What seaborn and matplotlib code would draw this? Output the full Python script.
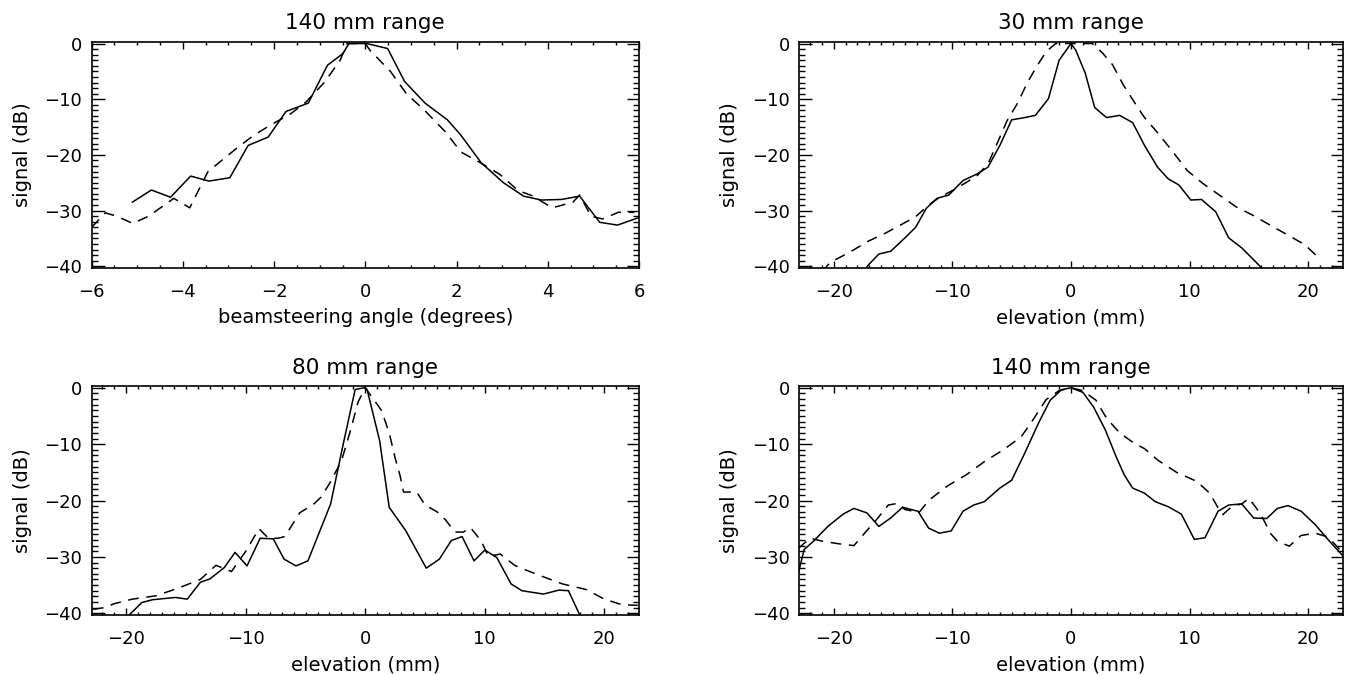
import matplotlib
matplotlib.use("Agg")
import matplotlib.pyplot as plt
import seaborn as sns
from matplotlib.ticker import MultipleLocator

# top left: 140 mm range, beamsteering angle
ang_solid_x = [-5.11, -4.69, -4.27, -3.83, -3.43, -2.97, -2.57, -2.13, -1.74, -1.25, -0.83, -0.49, -0.36,
               0.03, 0.49, 0.86, 1.31, 1.80, 2.09, 2.54, 3.03, 3.47, 3.86, 4.30, 4.70, 5.14, 5.53, 5.98]
ang_solid_y = [-28.5, -26.3, -27.6, -23.8, -24.7, -24.1, -18.3, -16.8, -12.2, -10.7, -3.9, -1.8, 0.0,
               0.0, -0.9, -6.8, -10.7, -13.7, -16.4, -21.4, -25.0, -27.4, -28.1, -28.0, -27.4, -32.1, -32.6, -31.3]
ang_dash_x = [-6.0, -5.7, -5.45, -5.1, -4.75, -4.2, -3.85, -3.45, -2.85, -2.45, -2.05, -1.65, -1.3, -0.9,
              -0.55, -0.4, 0.0, 0.1, 0.55, 0.9, 1.3, 1.75, 2.1, 2.5, 2.95, 3.35, 3.65, 4.1, 4.55, 4.7,
              4.95, 5.2, 5.55, 5.9]
ang_dash_y = [-33.0, -30.4, -31.0, -32.3, -31.0, -27.8, -29.5, -23.0, -19.0, -16.5, -14.5, -12.7, -10.5, -7.0,
              -3.0, 0.0, 0.0, -1.2, -5.0, -9.0, -12.0, -15.8, -19.5, -21.3, -23.5, -26.4, -27.3, -29.5, -28.5, -27.2,
              -31.0, -31.5, -30.3, -30.3]

# top right: 30 mm range, elevation
e30_solid_x = [-17.6, -17.1, -16.2, -15.2, -14.0, -13.1, -12.2, -11.3, -10.3, -9.1, -7.9, -7.0, -6.0, -5.0,
               -3.9, -3.0, -1.9, -1.0, -0.4, 0.0, 0.4, 1.2, 2.0, 3.0, 4.1, 5.2, 6.2, 7.3, 8.2, 9.1, 10.1,
               11.0, 12.2, 13.3, 14.4, 15.9, 16.5]
e30_solid_y = [-41.5, -39.8, -37.8, -37.3, -34.9, -33.0, -29.6, -27.8, -27.2, -24.6, -23.4, -22.2, -18.3, -13.7,
               -13.3, -12.9, -9.9, -3.0, -1.2, 0.0, -1.2, -5.3, -11.5, -13.3, -12.9, -14.2, -18.3, -22.2, -24.3,
               -25.4, -28.1, -28.0, -30.2, -34.9, -36.7, -39.9, -41.5]
e30_dash_x = [-21.0, -20.3, -18.6, -17.1, -15.6, -14.3, -13.1, -12.0, -11.0, -9.9, -8.8, -7.9, -7.0, -6.3,
              -5.4, -4.5, -3.7, -2.8, -2.1, -1.3, 1.8, 2.7, 3.5, 4.4, 5.3, 6.2, 7.3, 8.5, 9.8, 11.1, 12.7,
              13.9, 15.3, 16.7, 18.2, 19.7, 20.8]
e30_dash_y = [-41.0, -39.3, -37.4, -35.5, -34.0, -32.5, -31.1, -29.0, -27.5, -26.3, -24.9, -23.7, -21.6, -18.3,
              -13.9, -10.7, -7.1, -3.8, -1.5, 0.0, 0.0, -1.8, -3.8, -7.4, -10.4, -13.3, -16.0, -19.2, -22.8,
              -25.1, -27.5, -29.3, -30.8, -32.5, -34.3, -36.1, -38.3]

# bottom left: 80 mm range, elevation
e80_solid_x = [-20.5, -19.8, -18.7, -17.8, -15.9, -14.9, -13.8, -13.0, -11.8, -10.9, -9.9, -8.8, -7.7, -6.8,
               -5.8, -4.8, -2.9, -1.9, -0.85, -0.1, 0.15, 1.2, 2.0, 3.4, 5.1, 6.2, 7.2, 8.1, 9.1, 10.0, 11.0,
               12.2, 13.1, 14.9, 16.2, 17.0, 17.9, 18.3]
e80_solid_y = [-41.5, -40.4, -38.1, -37.6, -37.2, -37.5, -34.5, -33.9, -31.9, -29.2, -31.6, -26.7, -26.8, -30.4,
               -31.6, -30.7, -20.6, -10.5, -0.3, 0.0, -0.3, -9.4, -21.2, -25.4, -32.0, -30.4, -27.1, -26.4,
               -30.7, -28.8, -30.1, -34.8, -36.0, -36.6, -35.9, -36.0, -40.1, -41.5]
e80_dash_x = [-22.8, -21.8, -21.0, -19.5, -17.5, -15.6, -13.8, -12.5, -11.2, -10.0, -8.9, -8.1, -7.3, -6.75,
              -6.2, -5.5, -4.3, -3.7, -3.0, -2.0, -1.3, -0.6, 0.0, 0.5, 1.35, 2.0, 2.5, 2.9, 3.2, 4.3, 5.0,
              6.0, 6.7, 7.5, 8.2, 8.8, 9.7, 10.3, 11.3, 12.5, 13.4, 14.6, 16.5, 18.5, 20.0, 21.5, 22.8]
e80_dash_y = [-39.3, -39.0, -38.3, -37.5, -36.9, -35.5, -34.0, -31.5, -32.6, -29.0, -25.0, -26.7, -26.7, -26.4,
              -24.6, -22.2, -20.6, -19.4, -17.0, -13.0, -8.0, -2.5, 0.0, -1.5, -4.0, -8.0, -12.5, -15.5, -18.5,
              -18.5, -20.8, -22.0, -23.4, -25.6, -25.6, -24.8, -27.2, -29.9, -29.5, -31.5, -32.3, -33.3, -34.8,
              -35.8, -37.5, -38.5, -38.6]

# bottom right: 140 mm range, elevation
e140_solid_x = [-23.0, -22.5, -21.7, -20.5, -19.2, -18.3, -17.2, -16.2, -15.2, -14.2, -12.9, -12.0, -11.1,
                -10.1, -9.1, -8.2, -7.3, -6.0, -5.0, -3.9, -2.7, -1.75, -0.8, 0.0, 1.0, 1.9, 2.9, 3.8, 4.5,
                5.2, 6.2, 7.1, 8.2, 9.3, 10.4, 11.3, 12.4, 13.3, 14.4, 15.4, 16.5, 17.4, 18.3, 19.4, 20.6,
                21.7, 23.0]
e140_solid_y = [-33.0, -28.7, -27.2, -24.6, -22.4, -21.4, -22.2, -24.6, -23.1, -21.2, -21.9, -24.9, -25.8,
                -25.4, -21.9, -20.8, -20.2, -17.8, -16.4, -11.6, -6.1, -2.2, -0.35, 0.0, -0.8, -3.4, -7.5,
                -12.2, -15.5, -17.8, -18.7, -20.2, -21.1, -22.4, -26.9, -26.6, -21.9, -20.8, -20.6, -23.1,
                -23.2, -21.4, -20.9, -21.9, -24.3, -27.0, -30.0]
e140_dash_x = [-23.0, -22.0, -21.0, -19.5, -18.3, -17.4, -16.4, -15.4, -14.6, -14.0, -12.8, -12.0, -11.4,
               -10.4, -8.8, -7.3, -5.7, -4.2, -3.3, -2.1, -1.0, 0.0, 1.0, 2.1, 3.0, 4.1, 5.3, 6.2, 7.3, 8.9,
               10.6, 11.7, 12.4, 12.8, 13.6, 14.4, 15.0, 16.0, 16.8, 17.4, 18.4, 19.4, 20.6, 21.7, 23.0]
e140_dash_y = [-28.5, -26.7, -27.2, -27.7, -28.0, -25.8, -23.4, -20.8, -20.5, -21.6, -22.1, -20.0, -19.0,
               -17.4, -15.4, -13.1, -11.0, -8.7, -6.0, -2.1, -0.5, 0.0, -0.5, -2.2, -5.4, -8.0, -9.8, -10.8,
               -12.8, -15.0, -16.6, -18.7, -21.3, -22.5, -21.0, -20.6, -19.6, -22.4, -25.8, -27.2, -28.1,
               -26.2, -25.8, -26.5, -29.5]

sns.set_theme(style="ticks")
plt.rcParams['font.family'] = ['DejaVu Sans']
plt.rcParams['text.color'] = 'black'
plt.rcParams['axes.labelcolor'] = 'black'
plt.rcParams['xtick.color'] = 'black'
plt.rcParams['ytick.color'] = 'black'

fig = plt.figure(figsize=(13.48, 6.75), dpi=100)


def panel(rect, sx, sy, dx, dy, title, xlabel, xlim, xmaj, xmin):
    ax = fig.add_axes(rect)
    sns.lineplot(x=sx, y=sy, ax=ax, color="black", lw=1.1, sort=False, estimator=None)
    sns.lineplot(x=dx, y=dy, ax=ax, color="black", lw=1.1, sort=False, estimator=None,
                 linestyle=(0, (7, 5)))
    ax.set_xlim(*xlim)
    ax.set_ylim(-40.3, 0.3)
    ax.xaxis.set_major_locator(MultipleLocator(xmaj))
    ax.xaxis.set_minor_locator(MultipleLocator(xmin))
    ax.yaxis.set_major_locator(MultipleLocator(10))
    ax.yaxis.set_minor_locator(MultipleLocator(1))
    ax.tick_params(which="both", direction="in", top=True, right=True, labelsize=13, width=1)
    ax.tick_params(axis="y", which="major", length=9, pad=7)
    ax.tick_params(axis="y", which="minor", length=4.5)
    ax.tick_params(axis="x", which="major", length=5, pad=11)
    ax.tick_params(axis="x", which="minor", length=2.5)
    for s in ax.spines.values():
        s.set_visible(True)
        s.set_linewidth(1.2)
        s.set_color("black")
    ax.set_title(title, fontsize=15.5, pad=9)
    ax.set_xlabel(xlabel, fontsize=14, labelpad=5)
    ax.set_ylabel("signal (dB)", fontsize=14, labelpad=9)
    return ax


panel([0.068, 0.603, 0.406, 0.335], ang_solid_x, ang_solid_y, ang_dash_x, ang_dash_y,
      "140 mm range", "beamsteering angle (degrees)", (-6, 6), 2, 0.5)
panel([0.593, 0.603, 0.403, 0.335], e30_solid_x, e30_solid_y, e30_dash_x, e30_dash_y,
      "30 mm range", "elevation (mm)", (-22.9, 22.9), 10, 1)
panel([0.068, 0.089, 0.406, 0.339], e80_solid_x, e80_solid_y, e80_dash_x, e80_dash_y,
      "80 mm range", "elevation (mm)", (-22.9, 22.9), 10, 1)
panel([0.593, 0.089, 0.403, 0.339], e140_solid_x, e140_solid_y, e140_dash_x, e140_dash_y,
      "140 mm range", "elevation (mm)", (-22.9, 22.9), 10, 1)

fig.savefig("out.png", dpi=100)
